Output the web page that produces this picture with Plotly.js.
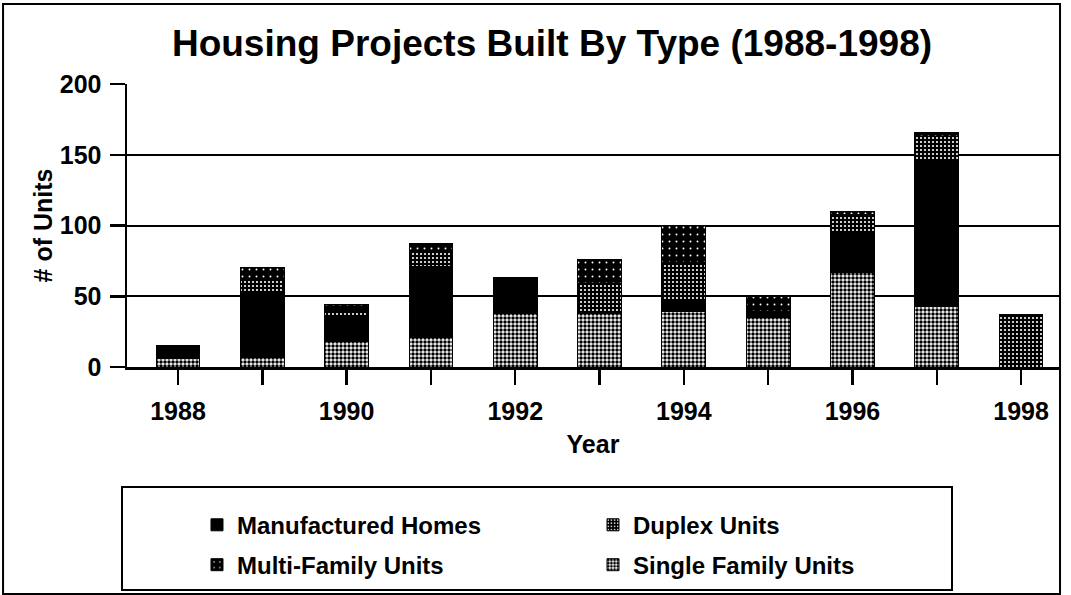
<!DOCTYPE html>
<html>
<head>
<meta charset="utf-8">
<script src="https://cdn.plot.ly/plotly-3.0.1.min.js"></script>
<style>html,body{margin:0;padding:0;background:#fff;}#chart{width:1071px;height:595px;}</style>
</head>
<body>
<div id="chart"></div>
<script>
// ---- data ----
var years = ['1988','1989','1990','1991','1992','1993','1994','1995','1996','1997','1998'];
var tickLabels = ['1988','','1990','','1992','','1994','','1996','','1998'];
var singleFamily  = [6, 7, 18, 21, 38, 38, 39, 35, 67, 43, 0];
var manufactured  = [9, 45, 17, 50, 25, 0, 9, 4, 27, 102, 0];
var duplex        = [0, 10, 5, 11, 0, 21, 26, 0, 14, 18, 37];
var multiFamily   = [0, 8, 4, 5, 0, 17, 26, 11, 2, 3, 0];

var FONT = 'Liberation Sans, Arial, sans-serif';
var line = {color: '#000', width: 1};

var traces = [
  {type: 'bar', name: 'Single Family Units', x: years, y: singleFamily, legend: 'legend4',
   marker: {color: '#ffffff', line: line,
            pattern: {shape: '.', fgcolor: '#000', bgcolor: '#ffffff', size: 4, solidity: 0.6}}},
  {type: 'bar', name: 'Manufactured Homes', x: years, y: manufactured, legend: 'legend',
   marker: {color: '#000000', line: line}},
  {type: 'bar', name: 'Duplex Units', x: years, y: duplex, legend: 'legend3',
   marker: {color: '#000000', line: line,
            pattern: {shape: '.', fgcolor: '#ffffff', bgcolor: '#000000', size: 4, solidity: 0.22}}},
  {type: 'bar', name: 'Multi-Family Units', x: years, y: multiFamily, legend: 'legend2',
   marker: {color: '#000000', line: line,
            pattern: {shape: '.', fgcolor: '#ffffff', bgcolor: '#000000', size: 7, solidity: 0.06}}}
];

var legFont = {family: FONT, size: 24, color: '#000', weight: 'bold'};
function leg(x, y) {
  return {x: x, y: y, xanchor: 'left', yanchor: 'middle', orientation: 'h',
          bgcolor: 'rgba(0,0,0,0)', borderwidth: 0, font: legFont};
}

var layout = {
  width: 1071, height: 595,
  margin: {l: 127, r: 12, t: 84, b: 228, autoexpand: false},
  paper_bgcolor: '#fff', plot_bgcolor: '#fff',
  showlegend: true,
  barmode: 'stack', bargap: 0.48,
  font: {family: FONT, color: '#000'},
  title: {text: 'Housing Projects Built By Type (1988-1998)',
          font: {family: FONT, size: 37, color: '#000', weight: 'bold'},
          xref: 'container', x: 0.5154, xanchor: 'center',
          yref: 'container', y: 0.928, yanchor: 'middle'},
  xaxis: {type: 'category', range: [-0.605, 10.45], automargin: false,
          tickmode: 'array', tickvals: years, ticktext: tickLabels,
          ticks: 'outside', ticklen: 15, tickwidth: 2.5, tickcolor: '#000',
          ticklabelstandoff: 5,
          showline: true, linecolor: '#000', linewidth: 2.5, showgrid: false,
          tickfont: {family: FONT, size: 25, color: '#000', weight: 'bold'},
          title: {text: 'Year', standoff: 12, font: {family: FONT, size: 25, color: '#000', weight: 'bold'}}},
  yaxis: {range: [0, 200], tickvals: [0, 50, 100, 150, 200], automargin: false,
          ticks: 'outside', ticklen: 15, tickwidth: 2.5, tickcolor: '#000',
          ticklabelstandoff: 3,
          showline: true, linecolor: '#000', linewidth: 2.5,
          showgrid: true, gridcolor: '#000', gridwidth: 2,
          zeroline: false,
          tickfont: {family: FONT, size: 25, color: '#000', weight: 'bold'},
          title: {text: '# of Units', standoff: 0, font: {family: FONT, size: 25, color: '#000', weight: 'bold'}}},
  legend:  leg(0.0751, -0.559),
  legend2: leg(0.0751, -0.700),
  legend3: leg(0.5, -0.559),
  legend4: leg(0.5, -0.700),
  shapes: [
    {type: 'rect', xref: 'paper', yref: 'paper', x0: -0.00536, x1: 0.8852, y0: -0.788, y1: -0.424,
     line: {color: '#000', width: 2}, fillcolor: 'rgba(0,0,0,0)'},
    {type: 'rect', xref: 'paper', yref: 'paper', x0: -0.133, x1: 1.0011, y0: -0.802, y1: 1.2827,
     line: {color: '#000', width: 2}, fillcolor: 'rgba(0,0,0,0)'}
  ]
};

Plotly.newPlot('chart', traces, layout, {displayModeBar: false, staticPlot: true});
</script>
</body>
</html>
